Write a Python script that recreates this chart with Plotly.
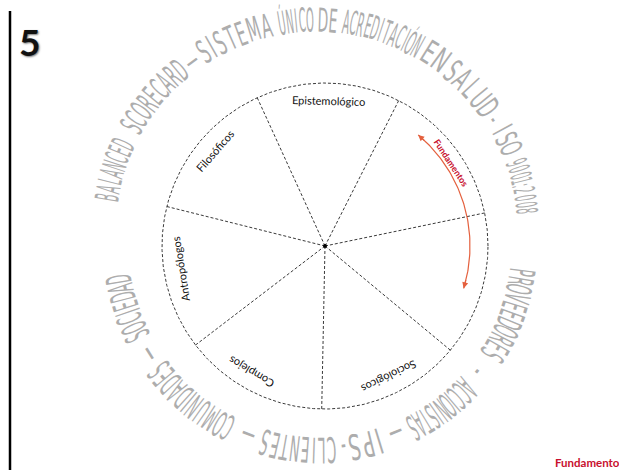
import math
import plotly.graph_objects as go

# ---------------- data ----------------
sector_labels = ["Epistemológico", "Filosóficos", "Antropólogos", "Complejos", "Sociológicos"]
sector_label_angles = [88.5, 139.0, 189.0, 239.5, 296.0]   # degrees, measured around the centre
n_sectors = 7
first_spoke_angle = 11.7

top_words = ["BALANCED", "SCORECARD", "—", "SISTEMA", "ÚNICO", "DE", "ACREDITACIÓN",
             "EN", "SALUD", "-", "ISO", "9001:2008"]
bottom_words = ["PROVEEDORES", "-", "ACCIONISTAS", "—", "IPS", "-", "CLIENTES", "—",
                "COMUNIDADES", "—", "SOCIEDAD"]
arc_label = "Fundamentos"
arc_span = [50.0, -17.0]
page_number = "5"
footer_text = "Fundamento"

# ---------------- layout of the curved lettering (angles of first/last letter) ----------------
top_word_angles = [(170.4, 155.4), (150.4, 130.0), (126.0, 126.0), (122.0, 103.4), (99.4, 91.6),
                   (88.2, 85.4), (81.8, 61.4), (57.9, 54.0), (49.6, 35.8), (32.2, 32.2),
                   (28.8, 23.2), (19.2, 5.6)]
top_word_sizes = [14, 14, 14, 14, 14, 14, 14, 14, 14, 13, 13, 12.5]
TOP_CENTER = (-9.0, 14.0)
TOP_R = 212.0

bottom_word_angles = [(-7.4, -32.3), (-38.5, -38.5), (-43.8, -63.0), (-68.0, -68.0), (-73.0, -80.4),
                      (-83.2, -83.2), (-86.6, -105.8), (-110.8, -110.8), (-116.8, -142.6),
                      (-147.8, -147.8), (-153.8, -170.6)]
BOTTOM_CENTER = (-5.0, 0.0)
BOTTOM_R = 203.5
BOTTOM_SIZE = 15

# ---------------- geometry / style ----------------
R = 163.0
R_LABEL = 146.0
R_ARC = 145.0
GREY = "#adadad"
RED = "#c8102e"
ARC_RED = "#e4603e"
DASH_COL = "#3a3a3a"
STRETCH = 2.35

def pol(r, a, c=(0.0, 0.0)):
    t = math.radians(a)
    return c[0] + r * math.cos(t), c[1] + r * math.sin(t)

def norm_angle(a):
    return ((a + 180.0) % 360.0) - 180.0

fig = go.Figure()

# outer dashed circle
cx, cy = [], []
for i in range(0, 721):
    x, y = pol(R, i * 0.5)
    cx.append(x); cy.append(y)
fig.add_trace(go.Scatter(x=cx, y=cy, mode="lines",
                         line=dict(color=DASH_COL, width=1, dash="3px,2px"),
                         hoverinfo="skip", showlegend=False))

# spokes
sx, sy = [], []
step = 360.0 / n_sectors
for k in range(n_sectors):
    x, y = pol(R, first_spoke_angle + k * step)
    sx += [0, x, None]; sy += [0, y, None]
fig.add_trace(go.Scatter(x=sx, y=sy, mode="lines",
                         line=dict(color=DASH_COL, width=1, dash="3px,2px"),
                         hoverinfo="skip", showlegend=False))

# centre dot
fig.add_trace(go.Scatter(x=[0], y=[0], mode="markers",
                         marker=dict(color="black", size=4),
                         hoverinfo="skip", showlegend=False))

# red arc
ax_, ay_ = [], []
n = 80
for i in range(n + 1):
    a = arc_span[0] + (arc_span[1] - arc_span[0]) * i / n
    x, y = pol(R_ARC, a)
    ax_.append(x); ay_.append(y)
fig.add_trace(go.Scatter(x=ax_, y=ay_, mode="lines",
                         line=dict(color=ARC_RED, width=1.2),
                         hoverinfo="skip", showlegend=False))

annotations = []
# arrow heads at both ends of arc
for end, prev in [(arc_span[0], arc_span[0] - 4), (arc_span[1], arc_span[1] + 4)]:
    x1, y1 = pol(R_ARC, end)
    x0, y0 = pol(R_ARC, prev)
    annotations.append(dict(x=x1, y=y1, ax=x0, ay=y0, xref="x", yref="y",
                            axref="x", ayref="y", showarrow=True, text="",
                            arrowhead=2, arrowsize=1, arrowwidth=1.2,
                            arrowcolor=ARC_RED, standoff=0))

# arc label
mid = 33.5
lx, ly = pol(151, mid)
annotations.append(dict(x=lx, y=ly, text="<b>%s</b>" % arc_label, showarrow=False,
                        textangle=norm_angle(90 - mid),
                        font=dict(family="Lato, Open Sans, sans-serif", size=9, color=RED),
                        xanchor="center", yanchor="middle"))

# sector labels
for lab, a in zip(sector_labels, sector_label_angles):
    x, y = pol(R_LABEL, a)
    annotations.append(dict(x=x, y=y, text=lab, showarrow=False,
                            textangle=norm_angle(90 - a),
                            font=dict(family="Lato, Open Sans, sans-serif", size=11, color="#111111"),
                            xanchor="center", yanchor="middle"))

# curved outer lettering (one annotation per character)
def char_w(c):
    if c in "I1:":
        return 0.6
    if c in "MW":
        return 1.3
    return 1.0

used_scales = set()

def curved_word(word, a0, a1, center, r, size):
    ws = [char_w(c) for c in word]
    pos = [0.0]
    for i in range(1, len(ws)):
        pos.append(pos[-1] + (ws[i - 1] + ws[i]) / 2.0)
    total = pos[-1]
    if total > 0:
        unit_px = abs(a1 - a0) / total * math.pi / 180.0 * r
        sxv = 0.74 * unit_px / (0.5 * size)
        sxv = max(0.75, min(1.5, sxv))
    else:
        sxv = 1.0
    tag = int(round(sxv * 10))
    used_scales.add(tag)
    fam = "Liberation Sans Narrow, sx%dq, DejaVu Sans Condensed, Roboto, sans-serif" % tag
    for c, p in zip(word, pos):
        a = a0 + (a1 - a0) * p / total if total > 0 else a0
        x, y = pol(r, a, center)
        annotations.append(dict(x=x, y=y, text=c, showarrow=False,
                                textangle=norm_angle(90 - a),
                                font=dict(family=fam, size=size, color=GREY),
                                xanchor="center", yanchor="middle"))

for w, (a0, a1), s in zip(top_words, top_word_angles, top_word_sizes):
    curved_word(w, a0, a1, TOP_CENTER, TOP_R, s)
for w, (a0, a1) in zip(bottom_words, bottom_word_angles):
    curved_word(w, a0, a1, BOTTOM_CENTER, BOTTOM_R, BOTTOM_SIZE)

# page number
annotations.append(dict(x=-296, y=205, text="<b>%s</b>" % page_number, showarrow=False,
                        font=dict(family="Lato, Liberation Sans, sans-serif", size=37, color="#111111",
                                  shadow="1px 1px 2px #777"),
                        xanchor="center", yanchor="middle"))

# footer
annotations.append(dict(x=228, y=-216, text="<b>%s</b>" % footer_text, showarrow=False,
                        font=dict(family="Lato, Open Sans, sans-serif", size=11.5, color=RED),
                        xanchor="left", yanchor="middle"))

fig.update_layout(
    width=619, height=470,
    margin=dict(l=0, r=0, t=0, b=0),
    paper_bgcolor="white", plot_bgcolor="white",
    xaxis=dict(range=[-325, 294], visible=False, fixedrange=True),
    yaxis=dict(range=[-224, 246], visible=False, fixedrange=True),
    annotations=annotations,
    shapes=[dict(type="line", xref="x", yref="y", x0=-315, x1=-315, y0=235, y1=-224,
                 line=dict(color="black", width=2.5))],
    showlegend=False,
    hovermode=False,
)

css = "body{margin:0;overflow:hidden}"
for t in sorted(used_scales):
    css += (" text.annotation-text[style*=\"sx%dq\"]{transform:scale(%.1f,%.2f);"
            "transform-box:fill-box;transform-origin:center;}" % (t, t / 10.0, STRETCH))

post_js = (
    "document.body.style.margin='0';"
    "var st=document.createElement('style');"
    "st.textContent=%r;"
    "document.head.appendChild(st);" % css
)

fig.write_html("out.html", post_script=post_js, config={"displayModeBar": False})
